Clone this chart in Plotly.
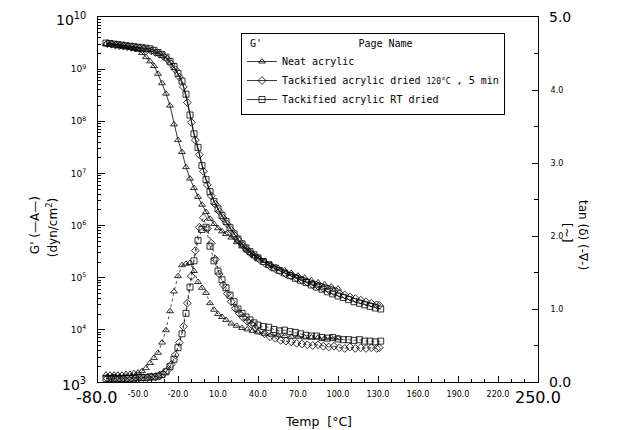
import plotly.graph_objects as go

# ---------------- data ----------------
# Neat acrylic (triangles)
neat_T = [-74, -71, -68, -65, -62, -59, -56, -53, -50, -47, -44, -41, -38, -35, -32, -29, -26, -23,
          -20, -17, -14, -11, -8, -5, -2, 1, 4, 7, 10, 13, 16, 20, 24, 28, 32, 36, 40, 45, 50, 55,
          60, 65, 70, 75, 80, 85, 90, 95, 100]
neat_log10_G = [9.48, 9.47, 9.46, 9.45, 9.44, 9.43, 9.41, 9.39, 9.37, 9.31, 9.23, 9.15, 9.06, 8.91,
                8.73, 8.53, 8.30, 7.94, 7.64, 7.41, 7.12, 6.90, 6.72, 6.55, 6.40, 6.26, 6.13, 6.03,
                5.95, 5.89, 5.84, 5.77, 5.68, 5.60, 5.52, 5.45, 5.39, 5.32, 5.25, 5.19, 5.14, 5.09,
                5.04, 5.00, 4.95, 4.91, 4.87, 4.83, 4.79]
neat_tan = [0.10, 0.10, 0.10, 0.10, 0.10, 0.11, 0.11, 0.12, 0.13, 0.15, 0.19, 0.26, 0.33, 0.40,
            0.54, 0.71, 0.97, 1.24, 1.45, 1.60, 1.62, 1.63, 1.52, 1.37, 1.29, 1.22, 1.08, 0.99,
            0.93, 0.89, 0.85, 0.80, 0.77, 0.74, 0.72, 0.70, 0.68, 0.66, 0.65, 0.64, 0.63, 0.62,
            0.62, 0.61, 0.61, 0.61, 0.60, 0.61, 0.60]

# Tackified acrylic dried 120 C, 5 min (diamonds)
dia_T = [-73, -70, -67, -64, -61, -58, -55, -52, -49, -46, -43, -40, -37, -34, -31, -28, -25, -22,
         -19, -16, -13, -10, -7, -4, -1, 2, 5, 8, 11, 14, 17, 20, 23, 26, 29, 32, 35, 38, 41,
         45, 49, 53, 57, 61, 65, 69, 73, 77, 81, 85, 89, 93, 97, 101, 105, 109, 113, 117, 121,
         125, 129, 131]
dia_log10_G = [9.49, 9.48, 9.46, 9.45, 9.44, 9.43, 9.42, 9.41, 9.40, 9.39, 9.37, 9.35, 9.32, 9.29,
               9.25, 9.19, 9.10, 8.99, 8.85, 8.66, 8.36, 7.98, 7.64, 7.36, 7.04,
               6.78, 6.57, 6.41, 6.27, 6.14, 6.03, 5.91, 5.80, 5.70, 5.61, 5.53, 5.46, 5.40, 5.35,
               5.28, 5.22, 5.17, 5.12, 5.07, 5.03, 4.99, 4.95, 4.91, 4.87, 4.84, 4.80, 4.77, 4.73,
               4.70, 4.67, 4.63, 4.60, 4.57, 4.54, 4.51, 4.48, 4.47]
dia_tan = [0.05, 0.05, 0.05, 0.05, 0.05, 0.05, 0.05, 0.06, 0.06, 0.06, 0.06, 0.07, 0.07, 0.09,
           0.11, 0.16, 0.24, 0.37, 0.54, 0.76, 1.08, 1.45, 1.80, 2.12, 2.25,
           2.10, 1.90, 1.68, 1.48, 1.33, 1.21, 1.10, 1.01, 0.94, 0.88, 0.83, 0.79, 0.74, 0.70,
           0.66, 0.62, 0.60, 0.57, 0.56, 0.55, 0.53, 0.52, 0.51, 0.50, 0.51, 0.49, 0.48, 0.49,
           0.47, 0.46, 0.48, 0.46, 0.47, 0.46, 0.47, 0.46, 0.47]

# Tackified acrylic RT dried (squares)
sq_T = [-74, -71, -68, -65, -62, -59, -56, -53, -50, -47, -44, -41, -38, -35, -32, -29, -26, -23,
        -20, -17, -14, -11, -8, -5, -2, 1, 4, 7, 10, 13, 16, 19, 22, 25, 28, 31, 34, 37, 40,
        44, 48, 52, 56, 60, 64, 68, 72, 76, 80, 84, 88, 92, 96, 100, 104, 108, 112, 116, 120,
        124, 128, 132]
sq_log10_G = [9.50, 9.49, 9.48, 9.47, 9.46, 9.45, 9.44, 9.43, 9.42, 9.41, 9.40, 9.39, 9.36, 9.32,
              9.28, 9.23, 9.15, 9.05, 8.92, 8.77, 8.52, 8.12, 7.76, 7.50, 7.15,
              6.88, 6.65, 6.46, 6.32, 6.19, 6.08, 5.96, 5.84, 5.74, 5.65, 5.57, 5.50, 5.44, 5.38,
              5.31, 5.25, 5.19, 5.14, 5.09, 5.04, 4.99, 4.95, 4.91, 4.86, 4.82, 4.78, 4.73, 4.69,
              4.65, 4.62, 4.58, 4.54, 4.51, 4.48, 4.45, 4.42, 4.40]
sq_tan = [0.05, 0.05, 0.05, 0.05, 0.05, 0.05, 0.05, 0.05, 0.06, 0.06, 0.06, 0.07, 0.07, 0.08,
          0.10, 0.14, 0.21, 0.31, 0.47, 0.66, 0.94, 1.30, 1.66, 1.94, 2.09,
          2.12, 1.86, 1.66, 1.52, 1.40, 1.29, 1.19, 1.10, 1.00, 0.94, 0.89, 0.85, 0.81, 0.78,
          0.76, 0.75, 0.72, 0.70, 0.71, 0.69, 0.68, 0.66, 0.64, 0.63, 0.63, 0.61, 0.60, 0.61,
          0.59, 0.58, 0.58, 0.57, 0.58, 0.56, 0.56, 0.55, 0.56]

series_names = ["Neat acrylic",
                "Tackified acrylic dried <span style='font-size:8px'>120°C</span> , 5 min",
                "Tackified acrylic RT dried"]

x_tick_vals = [-50, -20, 10, 40, 70, 100, 130, 160, 190, 220]
x_tick_text = ["-50.0", "-20.0", "10.0", "40.0", "70.0", "100.0", "130.0", "160.0", "190.0", "220.0"]
y_exps = [4, 5, 6, 7, 8, 9]
y2_tick_vals = [1, 2, 3, 4]
y2_tick_text = ["1.0", "2.0", "3.0", "4.0"]

# ---------------- figure ----------------
FONT = "DejaVu Sans"
LEG_FONT = "DejaVu Sans Mono"
fig = go.Figure()

groups = [
    (neat_T, neat_log10_G, neat_tan, "triangle-up-open", series_names[0]),
    (dia_T, dia_log10_G, dia_tan, "diamond-open", series_names[1]),
    (sq_T, sq_log10_G, sq_tan, "square-open", series_names[2]),
]
for T, lg, tn, sym, name in groups:
    fig.add_trace(go.Scatter(
        x=T, y=[10 ** v for v in lg], mode="lines+markers", name=name,
        line=dict(color="black", width=0.8),
        marker=dict(symbol=sym, size=6, color="black", line=dict(width=0.8)),
        yaxis="y"))
for T, lg, tn, sym, name in groups:
    fig.add_trace(go.Scatter(
        x=T, y=tn, mode="lines+markers", name=name, showlegend=False,
        line=dict(color="black", width=0.7, dash="dot"),
        marker=dict(symbol=sym, size=6, color="black", line=dict(width=0.8)),
        yaxis="y2"))

minor_log = [k * 10 ** e for e in range(3, 10) for k in range(2, 10)]

fig.update_layout(
    width=621, height=430,
    margin=dict(l=90, r=91, t=9, b=56),
    paper_bgcolor="white", plot_bgcolor="white",
    font=dict(family=FONT, color="black"),
    xaxis=dict(range=[-80, 250], tickmode="array", tickvals=x_tick_vals, ticktext=x_tick_text,
               tickfont=dict(size=8), ticks="inside", ticklen=6, tickcolor="black",
               ticklabelstandoff=4,
               showline=True, linecolor="black", linewidth=1, mirror=True,
               showgrid=False, zeroline=False,
               minor=dict(ticks="inside", ticklen=3, dtick=10, tick0=-80, tickcolor="black",
                          showgrid=False)),
    yaxis=dict(type="log", range=[3, 10], tickmode="array",
               tickvals=[10 ** e for e in y_exps],
               ticktext=["10<sup>%d</sup>" % e for e in y_exps],
               tickfont=dict(size=9), ticks="inside", ticklen=7, tickcolor="black",
               ticklabelstandoff=9,
               showline=True, linecolor="black", linewidth=1,
               showgrid=False, zeroline=False,
               minor=dict(ticks="inside", ticklen=3, tickmode="array", tickvals=minor_log,
                          tickcolor="black", showgrid=False)),
    yaxis2=dict(overlaying="y", side="right", range=[0, 5], tickmode="array",
                tickvals=y2_tick_vals, ticktext=y2_tick_text, tickfont=dict(size=8),
                ticks="inside", ticklen=6, tickcolor="black", ticklabelstandoff=10,
                showline=True, linecolor="black", linewidth=1,
                showgrid=False, zeroline=False,
                minor=dict(ticks="inside", ticklen=4, dtick=0.5, tick0=0, tickcolor="black",
                           showgrid=False)),
    legend=dict(x=0.325, y=0.956, xanchor="left", yanchor="top",
                bgcolor="white", bordercolor="black", borderwidth=1,
                font=dict(size=10, family=LEG_FONT),
                title=dict(text=" G'                Page Name",
                           font=dict(size=10, family=LEG_FONT)),
                itemwidth=30, tracegroupgap=0),
)

ann = [
    dict(x=-80, y=0, xref="x", yref="paper", text="-80.0", showarrow=False,
         xanchor="center", yanchor="middle", xshift=-2, yshift=-15, font=dict(size=16)),
    dict(x=250, y=0, xref="x", yref="paper", text="250.0", showarrow=False,
         xanchor="center", yanchor="middle", yshift=-15, font=dict(size=16)),
    dict(x=0, y=1, xref="paper", yref="paper", text="10<sup>10</sup>", showarrow=False,
         xanchor="right", yanchor="middle", xshift=-10, yshift=-2, font=dict(size=14)),
    dict(x=0, y=0, xref="paper", yref="paper", text="10<sup>3</sup>", showarrow=False,
         xanchor="right", yanchor="middle", xshift=-10, yshift=-2, font=dict(size=14)),
    dict(x=1, y=1, xref="paper", yref="paper", text="5.0", showarrow=False,
         xanchor="left", yanchor="middle", xshift=9, font=dict(size=14)),
    dict(x=1, y=0, xref="paper", yref="paper", text="0.0", showarrow=False,
         xanchor="left", yanchor="middle", xshift=9, font=dict(size=14)),
    dict(x=0.5, y=-0.107, xref="paper", yref="paper", text="Temp  [°C]", showarrow=False,
         xanchor="center", yanchor="middle", font=dict(size=12.5)),
    dict(x=-0.143, y=0.43, xref="paper", yref="paper", text="G' (—A—)",
         xanchor="center", yanchor="middle",
         showarrow=False, textangle=-90, font=dict(size=12)),
    dict(x=-0.104, y=0.422, xref="paper", yref="paper", text="(dyn/cm<sup>2</sup>)",
         xanchor="center", yanchor="middle",
         showarrow=False, textangle=-90, font=dict(size=12)),
    dict(x=1.102, y=0.403, xref="paper", yref="paper", text="tan (δ) (-∇-)",
         xanchor="center", yanchor="middle",
         showarrow=False, textangle=90, font=dict(size=12)),
    dict(x=1.066, y=0.411, xref="paper", yref="paper", text="[~]",
         xanchor="center", yanchor="middle",
         showarrow=False, textangle=90, font=dict(size=12)),
]
fig.update_layout(annotations=ann)

fig.write_html("out.html")
